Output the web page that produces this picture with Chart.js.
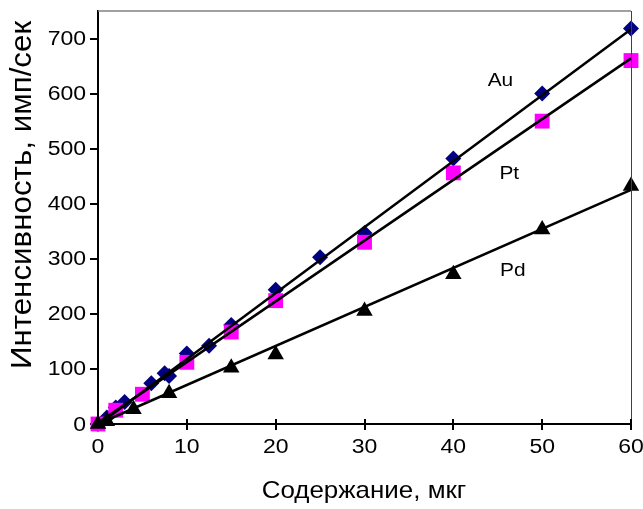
<!DOCTYPE html>
<html>
<head>
<meta charset="utf-8">
<script src="https://cdn.jsdelivr.net/npm/chart.js@4"></script>
<style>
  html, body { margin: 0; padding: 0; background: #fff; }
  #chart-container { width: 643px; height: 509px; }
</style>
</head>
<body>
<div id="chart-container"><canvas id="myChart" width="643" height="509"></canvas></div>
<script>
// Данные
var auX = [0, 1, 2, 3, 6, 7.5, 8, 10, 12.5, 15, 20, 25, 30, 40, 50, 60];
var auY = [0, 12, 30, 40, 74, 92, 87, 128, 142, 180, 244, 303, 347, 482, 600, 718];

var ptX = [0, 2, 5, 10, 15, 20, 30, 40, 50, 60];
var ptY = [0, 25, 54, 112, 167, 224, 330, 456, 550, 660];

var pdX = [0, 1, 4, 8, 15, 20, 30, 40, 50, 60];
var pdY = [0, 5, 27, 56, 102, 126, 205, 272, 353, 432];

// Линии тренда: концы отрезков
var trendX = [0, 60];
var auTrendY = [-2, 717];
var ptTrendY = [2, 664];
var pdTrendY = [0, 425];

// Подписи осей
var xTicks = [0, 10, 20, 30, 40, 50, 60];
var yTicks = [0, 100, 200, 300, 400, 500, 600, 700];
var xTitle = "Содержание, мкг";
var yTitle = "Интенсивность, имп/сек";

// Подписи серий (в координатах данных)
var seriesLabels = [
    { text: "Au", x: 45.3, y: 624 },
    { text: "Pt", x: 46.3, y: 455 },
    { text: "Pd", x: 46.7, y: 279 }
];

function pts(xs, ys) {
    return xs.map(function (x, i) { return { x: x, y: ys[i] }; });
}

function trendSet(ys) {
    return {
        type: "line",
        data: pts(trendX, ys),
        borderColor: "#000",
        borderWidth: 2.5,
        pointRadius: 0,
        fill: false,
        clip: false,
        order: 1
    };
}

// Текст, немного растянутый по горизонтали (как в исходной картинке)
function wideText(ctx, txt, x, y, sx, align, rot) {
    ctx.save();
    ctx.translate(x, y);
    if (rot) ctx.rotate(rot);
    ctx.scale(sx, 1);
    ctx.textAlign = align;
    ctx.textBaseline = "middle";
    ctx.fillText(txt, 0, 0);
    ctx.restore();
}

var FONT = "'Liberation Sans', Arial, sans-serif";

var textPlugin = {
    id: "texts",
    afterDraw: function (chart) {
        var ctx = chart.ctx;
        var xs = chart.scales.x, ys = chart.scales.y;
        var area = chart.chartArea;

        // рамка сверху и справа
        ctx.save();
        ctx.strokeStyle = "#808080";
        ctx.lineWidth = 1.5;
        ctx.beginPath();
        ctx.moveTo(area.left, area.top);
        ctx.lineTo(area.right, area.top);
        ctx.stroke();
        ctx.strokeStyle = "#404040";
        ctx.lineWidth = 1;
        ctx.beginPath();
        ctx.moveTo(area.right + 0.5, area.top);
        ctx.lineTo(area.right + 0.5, area.bottom);
        ctx.stroke();

        // внутренняя часть делений по оси X
        ctx.strokeStyle = "#000";
        ctx.lineWidth = 2;
        xs.ticks.forEach(function (t) {
            var px = Math.round(xs.getPixelForValue(t.value));
            ctx.beginPath();
            ctx.moveTo(px, area.bottom);
            ctx.lineTo(px, area.bottom - 5);
            ctx.stroke();
        });
        ctx.restore();

        ctx.save();
        ctx.fillStyle = "#000";
        ctx.font = "20px " + FONT;
        ys.ticks.forEach(function (t) {
            wideText(ctx, String(t.value), 86, ys.getPixelForValue(t.value) + 1, 1.15, "right");
        });
        xs.ticks.forEach(function (t) {
            wideText(ctx, String(t.value), xs.getPixelForValue(t.value), 447, 1.15, "center");
        });

        ctx.font = "24px " + FONT;
        wideText(ctx, xTitle, 364, 491, 1.08, "center");
        ctx.font = "29px " + FONT;
        wideText(ctx, yTitle, 23, 195, 1.08, "center", -Math.PI / 2);

        ctx.font = "19px " + FONT;
        seriesLabels.forEach(function (l) {
            wideText(ctx, l.text, xs.getPixelForValue(l.x), ys.getPixelForValue(l.y), 1.1, "center");
        });
        ctx.restore();
    }
};

var ctx = document.getElementById("myChart").getContext("2d");
var myChart = new Chart(ctx, {
    type: "scatter",
    data: {
        datasets: [
            trendSet(auTrendY),
            trendSet(ptTrendY),
            trendSet(pdTrendY),
            {
                label: "Pd",
                data: pts(pdX, pdY),
                pointStyle: "triangle",
                pointRadius: 9.5,
                pointBackgroundColor: "#000",
                pointBorderColor: "#000",
                pointBorderWidth: 0,
                clip: false,
                order: 3
            },
            {
                label: "Pt",
                data: pts(ptX, ptY),
                pointStyle: "rect",
                pointRadius: 10.5,
                pointBackgroundColor: "#ff00ff",
                pointBorderColor: "#ff00ff",
                pointBorderWidth: 0,
                clip: false,
                order: 4
            },
            {
                label: "Au",
                data: pts(auX, auY),
                pointStyle: "rectRot",
                pointRadius: 8,
                pointBackgroundColor: "#000080",
                pointBorderColor: "#000080",
                pointBorderWidth: 0,
                clip: false,
                order: 5
            }
        ]
    },
    options: {
        responsive: false,
        animation: false,
        layout: { padding: { top: 11, right: 12, left: 0, bottom: 0 } },
        plugins: {
            legend: { display: false },
            tooltip: { enabled: false }
        },
        scales: {
            x: {
                type: "linear",
                min: 0,
                max: 60,
                afterBuildTicks: function (scale) {
                    scale.ticks = xTicks.map(function (v) { return { value: v }; });
                },
                afterFit: function (scale) { scale.height = 85; },
                ticks: { display: false },
                grid: { drawOnChartArea: false, drawTicks: true, tickLength: 6, color: "#000", lineWidth: 2 },
                border: { color: "#000", width: 2 }
            },
            y: {
                type: "linear",
                min: 0,
                max: 750,
                afterBuildTicks: function (scale) {
                    scale.ticks = yTicks.map(function (v) { return { value: v }; });
                },
                afterFit: function (scale) { scale.width = 98; },
                ticks: { display: false },
                grid: { drawOnChartArea: false, drawTicks: true, tickLength: 8, color: "#000", lineWidth: 2 },
                border: { color: "#000", width: 2 }
            }
        }
    },
    plugins: [textPlugin]
});
</script>
</body>
</html>
